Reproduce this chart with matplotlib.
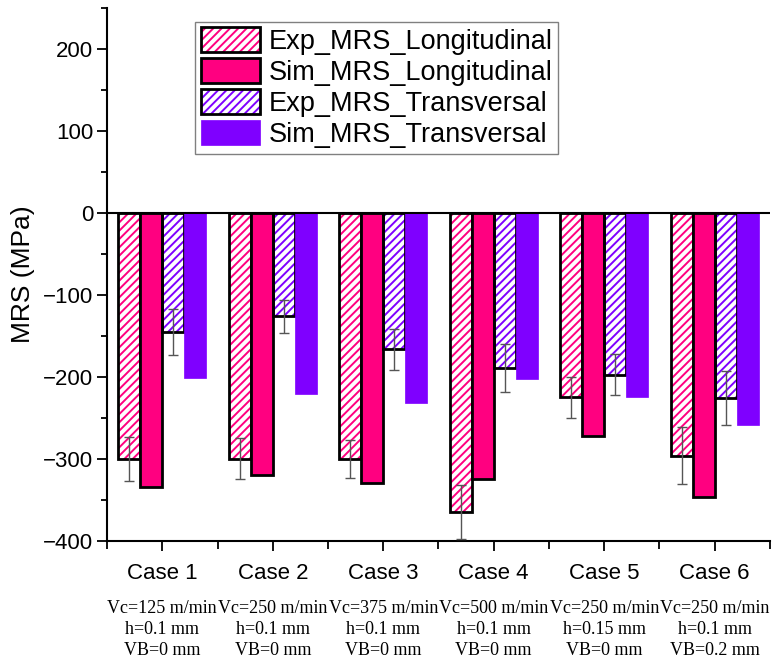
import numpy as np
import matplotlib
matplotlib.use("Agg")
import matplotlib.pyplot as plt
from matplotlib.patches import Patch
from matplotlib.ticker import MultipleLocator, FixedLocator

plt.rcParams['font.family'] = ['Liberation Sans', 'DejaVu Sans']
plt.rcParams['hatch.linewidth'] = 1.4

### Data
cases = ['Case 1', 'Case 2', 'Case 3', 'Case 4', 'Case 5', 'Case 6']
conditions = [
    'Vc=125 m/min\nh=0.1 mm\nVB=0 mm',
    'Vc=250 m/min\nh=0.1 mm\nVB=0 mm',
    'Vc=375 m/min\nh=0.1 mm\nVB=0 mm',
    'Vc=500 m/min\nh=0.1 mm\nVB=0 mm',
    'Vc=250 m/min\nh=0.15 mm\nVB=0 mm',
    'Vc=250 m/min\nh=0.1 mm\nVB=0.2 mm',
]
exp_long = [-300, -300, -300, -365, -225, -296]
exp_long_err = [27, 25, 23, 33, 25, 35]
sim_long = [-334, -320, -329, -325, -272, -346]
exp_trans = [-145, -126, -166, -189, -197, -226]
exp_trans_err = [28, 20, 25, 29, 25, 33]
sim_trans = [-201, -221, -232, -203, -224, -259]

labels = ['Exp_MRS_Longitudinal', 'Sim_MRS_Longitudinal',
          'Exp_MRS_Transversal', 'Sim_MRS_Transversal']

pink = '#FF0080'
purple = '#7F00FF'
hatch = '////'

fig = plt.figure(figsize=(7.79, 6.62), dpi=100)
ax = fig.add_axes([0.1374, 0.1828, 0.8510, 0.8052])

x = np.arange(1, len(cases) + 1)
w = 0.2


def hatched_bars(xpos, vals, color, err):
    # colored hatch on white, then black outline on top
    ax.bar(xpos, vals, w, facecolor='white', edgecolor=color, hatch=hatch,
           linewidth=0, zorder=2)
    ax.bar(xpos, vals, w, facecolor='none', edgecolor='black',
           linewidth=2, zorder=3)
    ax.errorbar(xpos, vals, yerr=err, fmt='none', ecolor='#555555',
                elinewidth=1, capsize=3.5, capthick=1, zorder=4)


hatched_bars(x - 1.5 * w, exp_long, pink, exp_long_err)
ax.bar(x - 0.5 * w, sim_long, w, facecolor=pink, edgecolor='black',
       linewidth=2, zorder=3)
hatched_bars(x + 0.5 * w, exp_trans, purple, exp_trans_err)
ax.bar(x + 1.5 * w, sim_trans, w, facecolor=purple, edgecolor=purple,
       linewidth=0.5, zorder=3)

ax.axhline(0, color='black', lw=1.5, zorder=5)

ax.set_xlim(0.5, 6.5)
ax.set_ylim(-400, 250)
ax.yaxis.set_major_locator(FixedLocator([-400, -300, -200, -100, 0, 100, 200]))
ax.yaxis.set_minor_locator(MultipleLocator(50))
ax.set_xticks(x)
ax.set_xticklabels(cases, fontsize=16)
ax.xaxis.set_minor_locator(FixedLocator(np.arange(0.5, 7.0, 1.0)))
ax.tick_params(axis='y', labelsize=16)
ax.tick_params(which='major', direction='out', length=7, width=1.3, pad=3)
ax.tick_params(which='minor', direction='out', length=4, width=1.3)
ax.tick_params(axis='x', which='major', pad=9)
ax.tick_params(axis='x', which='minor', length=6)

for s in ['top', 'right']:
    ax.spines[s].set_visible(False)
for s in ['left', 'bottom']:
    ax.spines[s].set_linewidth(1.5)

ax.set_ylabel('MRS (MPa)', fontsize=19, labelpad=6)

# conditions under each case
for xi, txt in zip(x, conditions):
    ax.text(xi, -0.11, txt, transform=ax.get_xaxis_transform(),
            ha='center', va='top', fontsize=13, family='Liberation Serif',
            linespacing=1.33)

# legend
h_exp_l = (Patch(facecolor='white', edgecolor=pink, hatch=hatch, linewidth=0),
           Patch(facecolor='none', edgecolor='black', linewidth=2))
h_sim_l = Patch(facecolor=pink, edgecolor='black', linewidth=2)
h_exp_t = (Patch(facecolor='white', edgecolor=purple, hatch=hatch, linewidth=0),
           Patch(facecolor='none', edgecolor='black', linewidth=2))
h_sim_t = Patch(facecolor=purple, edgecolor=purple, linewidth=0.5)
leg = ax.legend([h_exp_l, h_sim_l, h_exp_t, h_sim_t], labels,
                loc='upper left', bbox_to_anchor=(0.133, 0.974),
                borderaxespad=0, fontsize=19.5, fancybox=False,
                framealpha=1, edgecolor='#808080', handlelength=2.2,
                handleheight=1.05, labelspacing=0.12, handletextpad=0.3,
                borderpad=0.2)
leg.get_frame().set_linewidth(1)

plt.savefig('out.png', dpi=100)
